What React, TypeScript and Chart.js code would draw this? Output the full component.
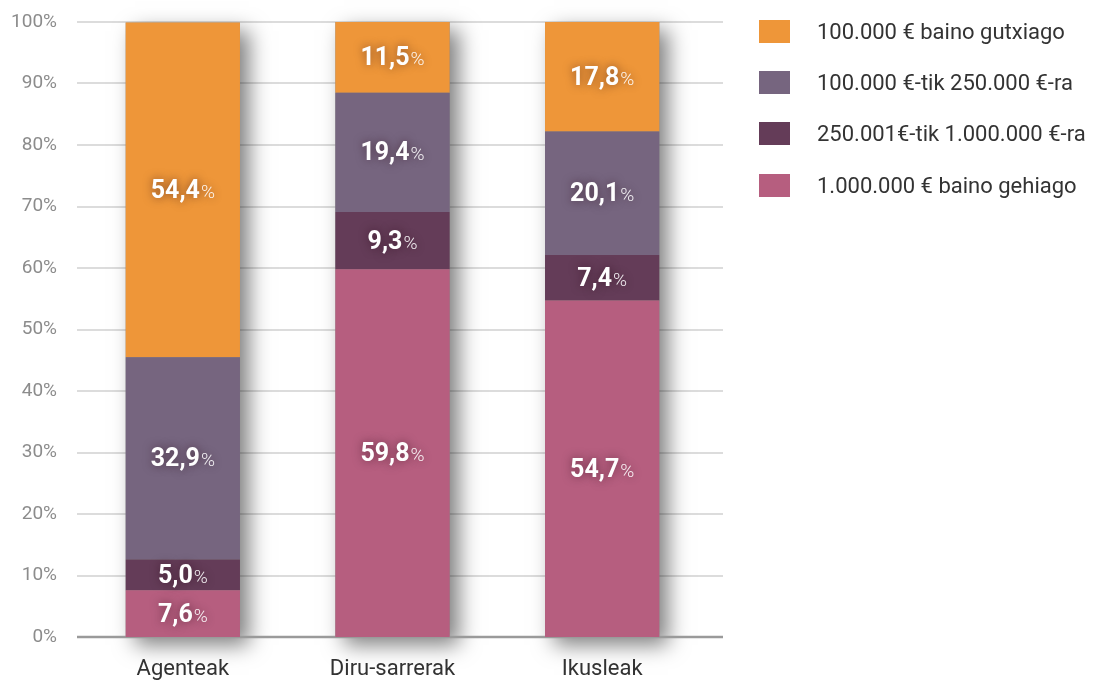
import React, { useEffect, useRef } from "react";
import { Chart, registerables } from "chart.js";

Chart.register(...registerables);

const categories = ["Agenteak", "Diru-sarrerak", "Ikusleak"];
const seriesNames = [
  "1.000.000 € baino gehiago",
  "250.001€-tik 1.000.000 €-ra",
  "100.000 €-tik 250.000 €-ra",
  "100.000 € baino gutxiago",
];
const over1M = [7.6, 59.8, 54.7];
const from250k = [5.0, 9.3, 7.4];
const from100k = [32.9, 19.4, 20.1];
const under100k = [54.4, 11.5, 17.8];
const seriesColors = ["#B65E7F", "#643C58", "#76657F", "#EE9639"];
const yTickValues = [0, 10, 20, 30, 40, 50, 60, 70, 80, 90, 100];

const SANS = "Roboto, 'Liberation Sans', sans-serif";

const gridShadowPlugin = {
  id: "gridShadow",
  beforeDatasetsDraw(chart: any) {
    const ctx = chart.ctx;
    const ys = chart.scales.y;
    const left = chart.chartArea.left - 1;
    const right = chart.chartArea.right + 16;
    ctx.save();
    yTickValues.forEach((v) => {
      if (v === 0) return;
      const py = Math.round(ys.getPixelForValue(v));
      ctx.strokeStyle = "#dcdcdc";
      ctx.lineWidth = 2;
      ctx.beginPath();
      ctx.moveTo(left, py);
      ctx.lineTo(right, py);
      ctx.stroke();
    });
    const n = chart.data.labels.length;
    for (let i = 0; i < n; i++) {
      let top = Infinity;
      let bottom = -Infinity;
      let x = 0;
      let w = 0;
      chart.data.datasets.forEach((_ds: any, di: number) => {
        const el = chart.getDatasetMeta(di).data[i];
        top = Math.min(top, el.y, el.base);
        bottom = Math.max(bottom, el.y, el.base);
        x = el.x;
        w = el.width;
      });
      ctx.save();
      ctx.shadowColor = "rgba(0,0,0,0.5)";
      ctx.shadowBlur = 20;
      ctx.shadowOffsetX = 9;
      ctx.shadowOffsetY = 8;
      ctx.fillStyle = "#888";
      ctx.fillRect(x - w / 2, top, w, bottom - top);
      ctx.restore();
    }
    const p0 = Math.round(ys.getPixelForValue(0));
    ctx.strokeStyle = "#9a9a9a";
    ctx.lineWidth = 2.5;
    ctx.beginPath();
    ctx.moveTo(left, p0);
    ctx.lineTo(right, p0);
    ctx.stroke();
    ctx.restore();
  },
  afterDatasetsDraw(chart: any) {
    const ctx = chart.ctx;
    ctx.save();
    chart.data.datasets.forEach((ds: any, di: number) => {
      const meta = chart.getDatasetMeta(di);
      meta.data.forEach((el: any, i: number) => {
        const v = ds.data[i];
        const num = v.toFixed(1).replace(".", ",");
        const cy = (el.y + el.base) / 2;
        ctx.font = `bold 25px ${SANS}`;
        const wn = ctx.measureText(num).width;
        ctx.font = `300 19px ${SANS}`;
        const wp = ctx.measureText("%").width;
        const total = wn + wp + 1;
        const x0 = el.x - total / 2;
        const base = cy + 8;
        ctx.shadowColor = "rgba(40,10,20,0.55)";
        ctx.shadowBlur = 10;
        ctx.textBaseline = "alphabetic";
        ctx.textAlign = "left";
        ctx.fillStyle = "#ffffff";
        ctx.font = `bold 25px ${SANS}`;
        ctx.fillText(num, x0, base);
        ctx.font = `300 19px ${SANS}`;
        ctx.fillStyle = "rgba(255,255,255,0.9)";
        ctx.fillText("%", x0 + wn + 1, base);
      });
    });
    ctx.restore();
  },
};

export default function App() {
  const ref = useRef<HTMLCanvasElement | null>(null);

  useEffect(() => {
    if (!ref.current) return;
    const seriesData = [over1M, from250k, from100k, under100k];
    const chart = new Chart(ref.current, {
      type: "bar",
      data: {
        labels: categories,
        datasets: seriesNames.map((name, i) => ({
          label: name,
          data: seriesData[i],
          backgroundColor: seriesColors[i],
          borderWidth: 0,
          barPercentage: 1,
          categoryPercentage: 0.545,
        })),
      },
      options: {
        responsive: false,
        maintainAspectRatio: false,
        animation: false,
        devicePixelRatio: 1,
        layout: { padding: { left: 0, right: 403, top: 22, bottom: 0 } },
        plugins: {
          legend: { display: false },
          tooltip: { enabled: false },
        },
        scales: {
          x: {
            stacked: true,
            grid: { display: false, drawTicks: false },
            border: { display: false },
            ticks: {
              color: "#333333",
              font: { family: SANS, size: 22 },
              padding: 19,
            },
            afterFit(scale: any) {
              scale.height = 47;
            },
          },
          y: {
            stacked: true,
            min: 0,
            max: 100,
            grid: { display: false, drawTicks: false },
            border: { display: false },
            afterBuildTicks(scale: any) {
              scale.ticks = yTickValues.map((v) => ({ value: v }));
            },
            ticks: {
              color: "#8c8c8c",
              font: { family: SANS, size: 19 },
              padding: 21,
              callback: (v: any) => `${v}%`,
            },
            afterFit(scale: any) {
              scale.width = 78;
              scale.paddingTop = 0;
              scale.paddingBottom = 0;
            },
          },
        },
      },
      plugins: [gridShadowPlugin],
    });
    return () => chart.destroy();
  }, []);

  const legendOrder = [3, 2, 1, 0];

  return (
    <div style={{ position: "fixed", left: 0, top: 0, width: 1110, height: 684, background: "#fff" }}>
      <canvas ref={ref} width={1110} height={684} style={{ position: "absolute", left: 0, top: 0, width: 1110, height: 684 }} />
      {legendOrder.map((si, row) => (
        <div key={si} style={{ position: "absolute", left: 759, top: 20 + row * 51.2, height: 23, display: "flex", alignItems: "center" }}>
          <div style={{ width: 31, height: 23, background: seriesColors[si] }} />
          <div style={{ marginLeft: 27, fontFamily: SANS, fontSize: 22, color: "#333", whiteSpace: "nowrap", lineHeight: "23px" }}>
            {seriesNames[si]}
          </div>
        </div>
      ))}
    </div>
  );
}
